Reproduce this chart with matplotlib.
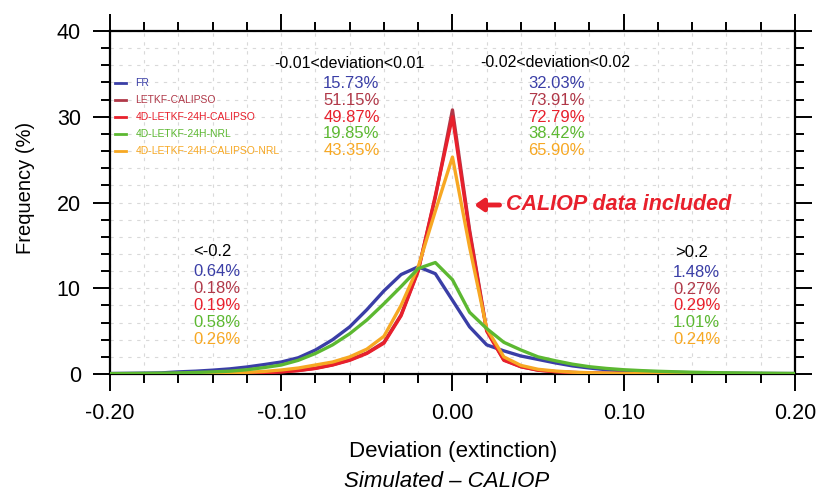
import numpy as np
import matplotlib
matplotlib.use("Agg")
import matplotlib.pyplot as plt
from matplotlib.ticker import MultipleLocator

plt.rcParams['font.family'] = ['Liberation Sans', 'DejaVu Sans']
plt.rcParams['axes.unicode_minus'] = False

# bin centres of the deviation histogram
deviation = [-0.20, -0.19, -0.18, -0.17, -0.16, -0.15, -0.14, -0.13, -0.12, -0.11,
             -0.10, -0.09, -0.08, -0.07, -0.06, -0.05, -0.04, -0.03, -0.02, -0.01,
             0.00, 0.01, 0.02, 0.03, 0.04, 0.05, 0.06, 0.07, 0.08, 0.09,
             0.10, 0.11, 0.12, 0.13, 0.14, 0.15, 0.16, 0.17, 0.18, 0.19, 0.20]

fr = [0.06, 0.08, 0.10, 0.13, 0.25, 0.33, 0.45, 0.60, 0.82, 1.10,
      1.40, 1.90, 2.80, 4.00, 5.50, 7.50, 9.70, 11.6, 12.5, 11.7,
      8.60, 5.50, 3.40, 2.70, 2.10, 1.70, 1.30, 0.95, 0.70, 0.50,
      0.38, 0.30, 0.24, 0.19, 0.15, 0.12, 0.10, 0.08, 0.07, 0.06, 0.05]

letkf_calipso = [0.01, 0.01, 0.02, 0.02, 0.03, 0.04, 0.05, 0.07, 0.10, 0.15,
                 0.26, 0.42, 0.68, 1.08, 1.65, 2.45, 3.70, 6.90, 12.1, 20.6,
                 30.8, 16.8, 5.10, 1.65, 0.85, 0.45, 0.28, 0.18, 0.12, 0.08,
                 0.06, 0.05, 0.04, 0.03, 0.03, 0.02, 0.02, 0.02, 0.01, 0.01, 0.01]

letkf4d_calipso = [0.01, 0.01, 0.02, 0.02, 0.03, 0.04, 0.05, 0.07, 0.10, 0.15,
                   0.25, 0.40, 0.65, 1.05, 1.60, 2.40, 3.60, 6.80, 12.0, 20.8,
                   30.0, 16.5, 5.00, 1.60, 0.85, 0.45, 0.28, 0.18, 0.12, 0.08,
                   0.06, 0.05, 0.04, 0.03, 0.03, 0.02, 0.02, 0.02, 0.01, 0.01, 0.01]

letkf4d_nrl = [0.05, 0.06, 0.08, 0.10, 0.13, 0.18, 0.25, 0.33, 0.50, 0.75,
               1.05, 1.60, 2.40, 3.40, 4.70, 6.30, 8.20, 10.2, 12.3, 13.0,
               11.0, 7.20, 5.30, 3.70, 2.80, 2.00, 1.55, 1.15, 0.85, 0.65,
               0.50, 0.40, 0.32, 0.26, 0.21, 0.17, 0.14, 0.12, 0.10, 0.08, 0.07]

letkf4d_calipso_nrl = [0.02, 0.02, 0.03, 0.04, 0.05, 0.07, 0.10, 0.14, 0.20, 0.30,
                       0.47, 0.70, 1.05, 1.40, 2.00, 2.90, 4.40, 8.00, 12.5, 19.0,
                       25.3, 14.8, 5.30, 2.00, 1.00, 0.55, 0.35, 0.22, 0.15, 0.10,
                       0.07, 0.05, 0.04, 0.03, 0.03, 0.02, 0.02, 0.02, 0.01, 0.01, 0.01]

names = ['FR', 'LETKF-CALIPSO', '4D-LETKF-24H-CALIPSO', '4D-LETKF-24H-NRL',
         '4D-LETKF-24H-CALIPSO-NRL']
colors = ['#3a3ea6', '#b03848', '#e8202c', '#5cb831', '#f7a823']

within_001 = ['15.73%', '51.15%', '49.87%', '19.85%', '43.35%']
within_002 = ['32.03%', '73.91%', '72.79%', '38.42%', '65.90%']
below_m02 = ['0.64%', '0.18%', '0.19%', '0.58%', '0.26%']
above_02 = ['1.48%', '0.27%', '0.29%', '1.01%', '0.24%']

fig = plt.figure(figsize=(8.17, 4.92), dpi=100)
ax = fig.add_axes([0.1346, 0.2398, 0.8384, 0.6972])

series = [fr, letkf_calipso, letkf4d_calipso, letkf4d_calipso_nrl, letkf4d_nrl]
order = [0, 1, 2, 4, 3]
for s, k in zip(series, order):
    ax.plot(deviation, s, color=colors[k], lw=2.4, solid_joinstyle='round', zorder=3)

ax.set_xlim(-0.2, 0.2)
ax.set_ylim(0, 40)
ax.xaxis.set_major_locator(MultipleLocator(0.1))
ax.xaxis.set_minor_locator(MultipleLocator(0.02))
ax.yaxis.set_major_locator(MultipleLocator(10))
ax.yaxis.set_minor_locator(MultipleLocator(2))
ax.xaxis.set_major_formatter(matplotlib.ticker.FormatStrFormatter('%.2f'))
ax.grid(True, which='both', color='#d9d9d9', lw=0.8, ls=(0, (3, 5)), zorder=0)

ax.tick_params(which='both', direction='out', top=True, right=True, width=1.4,
               labelsize=15.5, labeltop=False, labelright=False)
ax.tick_params(which='major', length=12)
ax.tick_params(which='minor', length=6.5)
ax.tick_params(axis='x', which='major', pad=9)
ax.tick_params(axis='y', which='major', pad=9)
for sp in ax.spines.values():
    sp.set_linewidth(1.6)

# legend-like labels and percentage tables
for i in range(5):
    y = 33.9 - 1.97 * i
    ax.plot([-0.1968, -0.1904], [y, y], color=colors[i], lw=2, clip_on=False, zorder=4)
    ax.text(-0.1851, y, names[i], color=colors[i], fontsize=7.5, va='center', ha='left')
    ax.text(-0.059, y, within_001[i], color=colors[i], fontsize=12, va='center', ha='center')
    ax.text(0.0607, y, within_002[i], color=colors[i], fontsize=12, va='center', ha='center')
    ax.text(-0.1512, 11.93 - 1.99 * i, below_m02[i], color=colors[i], fontsize=12,
            va='center', ha='left')
    ax.text(0.1289, 11.85 - 1.95 * i, above_02[i], color=colors[i], fontsize=12,
            va='center', ha='left')

ax.text(-0.0601, 36.25, '-0.01<deviation<0.01', fontsize=11.5, va='center', ha='center')
ax.text(0.060, 36.3, '-0.02<deviation<0.02', fontsize=11.5, va='center', ha='center')
ax.text(-0.1512, 14.26, '<-0.2', fontsize=12, va='center', ha='left')
ax.text(0.1302, 14.15, '>0.2', fontsize=12, va='center', ha='left')

ax.annotate('', xy=(0.0128, 19.71), xytext=(0.0275, 19.71),
            arrowprops=dict(arrowstyle='-|>,head_length=0.5,head_width=0.35',
                            color='#e8202c', lw=3.5, shrinkA=0, shrinkB=0))
ax.text(0.0315, 19.71, 'CALIOP data included', color='#e8202c', fontsize=15.5,
        fontweight='bold', fontstyle='italic', va='center', ha='left')

fig.text(0.5545, 0.0717, 'Deviation (extinction)', fontsize=16, ha='center', va='baseline')
fig.text(0.5465, 0.0108, 'Simulated \u2013 CALIOP', fontsize=16, fontstyle='italic',
         ha='center', va='baseline')
fig.text(0.0306, 0.617, 'Frequency (%)', fontsize=14.5, rotation=90, ha='center', va='center')

fig.savefig('out.png', dpi=100)
